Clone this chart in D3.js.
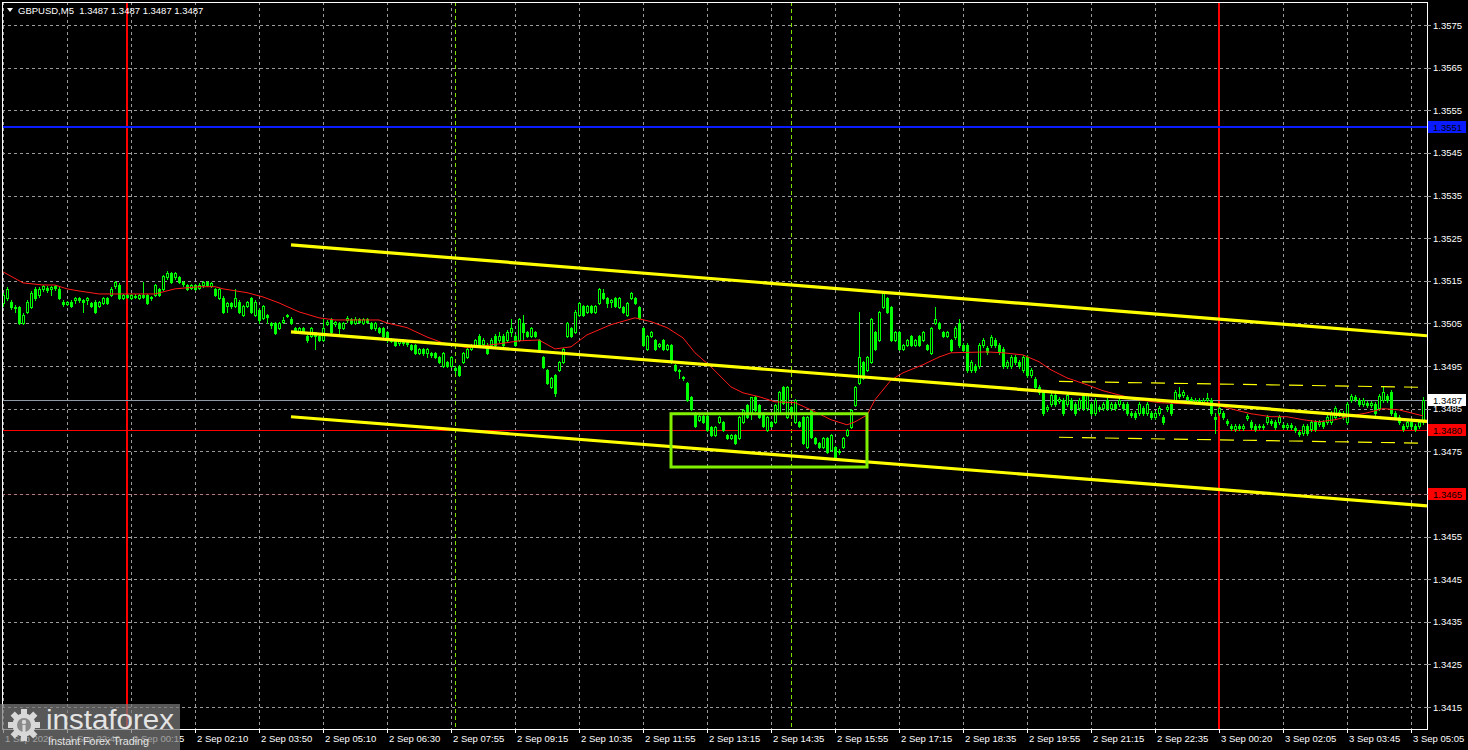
<!DOCTYPE html>
<html><head><meta charset="utf-8">
<script src="https://cdn.jsdelivr.net/npm/d3@7"></script>
<style>
body{margin:0;background:#000;overflow:hidden}
svg{display:block}
text{font-family:"Liberation Sans",Arial,sans-serif}
</style></head>
<body><svg id="c" width="1468" height="750"></svg>
<script>
// ---------- DATA (GBPUSD M5) ----------
const open = [
1.35098,1.35110,1.35100,1.35089,1.35089,1.35051,1.35077,1.35089,1.35131,1.35117,
1.35131,1.35133,1.35131,1.35138,1.35131,1.35100,1.35096,1.35100,1.35105,1.35110,
1.35105,1.35105,1.35098,1.35100,1.35091,1.35098,1.35110,1.35117,1.35138,1.35140,
1.35110,1.35117,1.35110,1.35115,1.35110,1.35117,1.35117,1.35110,1.35117,1.35131,
1.35131,1.35159,1.35169,1.35159,1.35159,1.35147,1.35140,1.35133,1.35140,1.35133,
1.35140,1.35147,1.35138,1.35131,1.35110,1.35110,1.35091,1.35098,1.35091,1.35100,
1.35070,1.35091,1.35110,1.35070,1.35082,1.35063,1.35070,1.35051,1.35051,1.35040,
1.35054,1.35068,1.35061,1.35040,1.35030,1.35040,1.35021,1.35021,1.35030,1.35021,
1.35011,1.35049,1.35061,1.35049,1.35051,1.35040,1.35058,1.35061,1.35051,1.35061,
1.35051,1.35061,1.35051,1.35040,1.35040,1.35040,1.35030,1.35014,1.35011,1.35004,
1.35009,1.35007,1.35000,1.35000,1.34981,1.34990,1.34981,1.34981,1.34981,1.34971,
1.34950,1.34960,1.34950,1.34946,1.34950,1.34960,1.34971,1.34990,1.35000,
1.35021,1.35002,1.35000,1.35000,1.35021,1.35011,1.35021,1.35011,1.35030,1.35021,
1.35011,1.35051,1.35030,1.35021,1.35030,1.35011,1.34971,1.34941,1.34901,1.34929,
1.34941,1.34960,1.35021,1.35040,1.35030,1.35070,1.35091,1.35077,1.35091,1.35077,
1.35098,1.35122,1.35110,1.35100,1.35110,1.35089,1.35089,1.35070,1.35110,1.35110,
1.35089,1.35040,1.34990,1.35021,1.35011,1.34997,1.35011,1.34990,1.35000,1.34953,
1.34941,1.34925,1.34910,1.34878,1.34840,1.34824,1.34833,1.34833,1.34807,1.34788,
1.34819,1.34819,1.34788,1.34781,1.34788,1.34781,1.34819,1.34859,1.34840,1.34878,
1.34859,1.34840,1.34800,1.34819,1.34819,1.34840,1.34901,1.34831,1.34854,1.34819,
1.34819,1.34831,1.34760,1.34847,1.34781,1.34770,1.34760,1.34781,1.34753,1.34760,
1.34749,1.34760,1.34788,1.34807,1.34859,1.34910,1.34960,1.34941,1.34960,1.35030,
1.35011,1.35089,1.35110,1.35089,1.35011,1.35030,1.34990,1.35000,1.35021,1.35000,
1.35021,1.35011,1.35000,1.34981,1.35051,1.35051,1.35030,1.35021,1.35011,
1.35018,1.35051,1.35000,1.35000,1.34941,1.34950,1.34950,1.35000,1.34993,1.35000,
1.35011,1.35000,1.34990,1.34950,1.34950,1.34971,1.34960,1.34941,1.34971,1.34929,
1.34920,1.34901,1.34889,1.34850,1.34861,1.34882,1.34868,1.34871,1.34861,1.34871,
1.34861,1.34852,1.34882,1.34852,1.34861,1.34840,1.34854,1.34852,1.34871,1.34852,
1.34861,1.34861,1.34861,1.34861,1.34840,1.34840,1.34840,1.34852,1.34840,1.34840,
1.34831,1.34840,1.34831,1.34850,1.34861,1.34871,1.34885,1.34882,1.34878,1.34873,
1.34866,1.34871,1.34866,1.34871,1.34871,1.34831,1.34840,1.34840,1.34821,1.34810,
1.34803,1.34810,1.34805,1.34828,1.34819,1.34810,1.34807,1.34810,1.34819,1.34821,
1.34819,1.34819,1.34812,1.34807,1.34812,1.34805,1.34796,1.34793,1.34810,1.34803,
1.34819,1.34814,1.34819,1.34819,1.34819,1.34831,1.34843,1.34840,1.34819,1.34871,
1.34878,1.34871,1.34861,1.34864,1.34859,1.34861,1.34852,1.34871,1.34880,1.34889,
1.34840,1.34831,1.34810,1.34810,1.34819,1.34810,1.34810,1.34819];
const high = [
1.35122,1.35136,1.35105,1.35093,1.35091,1.35075,1.35105,1.35126,1.35136,1.35136,
1.35140,1.35138,1.35138,1.35140,1.35136,1.35105,1.35103,1.35105,1.35112,1.35112,
1.35108,1.35112,1.35100,1.35105,1.35103,1.35112,1.35112,1.35136,1.35150,1.35145,
1.35119,1.35119,1.35119,1.35119,1.35119,1.35147,1.35119,1.35115,1.35143,1.35133,
1.35164,1.35173,1.35171,1.35171,1.35162,1.35150,1.35143,1.35143,1.35143,1.35145,
1.35150,1.35150,1.35147,1.35133,1.35133,1.35115,1.35100,1.35100,1.35131,1.35105,
1.35093,1.35103,1.35112,1.35105,1.35086,1.35093,1.35072,1.35054,1.35054,1.35054,
1.35065,1.35072,1.35065,1.35042,1.35042,1.35042,1.35023,1.35042,1.35030,1.35023,
1.35061,1.35058,1.35063,1.35056,1.35054,1.35054,1.35068,1.35063,1.35065,1.35063,
1.35063,1.35063,1.35054,1.35054,1.35042,1.35042,1.35033,1.35016,1.35014,1.35011,
1.35014,1.35011,1.35002,1.35002,1.34993,1.34993,1.34993,1.34983,1.34983,1.34974,
1.34983,1.34962,1.34974,1.34950,1.34953,1.34983,1.34993,1.35002,1.35014,
1.35026,1.35016,1.35004,1.35016,1.35026,1.35030,1.35026,1.35035,1.35061,1.35026,
1.35063,1.35070,1.35033,1.35042,1.35033,1.35014,1.34974,1.34943,1.34925,1.34932,
1.34962,1.34993,1.35054,1.35042,1.35082,1.35100,1.35093,1.35093,1.35093,1.35093,
1.35133,1.35131,1.35112,1.35108,1.35112,1.35112,1.35091,1.35100,1.35124,1.35112,
1.35091,1.35042,1.35023,1.35033,1.35014,1.35004,1.35014,1.35002,1.35002,1.34955,
1.34943,1.34927,1.34913,1.34880,1.34843,1.34835,1.34835,1.34835,1.34810,1.34810,
1.34833,1.34821,1.34791,1.34791,1.34791,1.34833,1.34850,1.34861,1.34878,1.34880,
1.34861,1.34843,1.34833,1.34821,1.34861,1.34892,1.34903,1.34903,1.34857,1.34873,
1.34821,1.34833,1.34833,1.34850,1.34784,1.34772,1.34784,1.34784,1.34791,1.34763,
1.34756,1.34784,1.34803,1.34850,1.34903,1.35077,1.34962,1.34974,1.35063,1.35033,
1.35079,1.35124,1.35112,1.35091,1.35033,1.35033,1.35002,1.35014,1.35023,1.35014,
1.35023,1.35033,1.35002,1.35042,1.35089,1.35054,1.35033,1.35033,1.35014,
1.35044,1.35061,1.35004,1.35004,1.34964,1.34955,1.35004,1.35016,1.34997,1.35023,
1.35016,1.35004,1.34995,1.34964,1.34976,1.34976,1.34964,1.34976,1.34976,1.34946,
1.34925,1.34906,1.34894,1.34859,1.34887,1.34887,1.34878,1.34875,1.34887,1.34875,
1.34866,1.34875,1.34887,1.34887,1.34866,1.34875,1.34859,1.34866,1.34875,1.34866,
1.34866,1.34875,1.34866,1.34866,1.34845,1.34845,1.34866,1.34857,1.34866,1.34845,
1.34845,1.34857,1.34835,1.34859,1.34866,1.34894,1.34901,1.34894,1.34882,1.34878,
1.34875,1.34875,1.34875,1.34887,1.34875,1.34840,1.34857,1.34845,1.34826,1.34814,
1.34814,1.34814,1.34814,1.34838,1.34824,1.34814,1.34814,1.34814,1.34835,1.34826,
1.34824,1.34835,1.34817,1.34817,1.34817,1.34810,1.34800,1.34814,1.34814,1.34824,
1.34824,1.34824,1.34824,1.34835,1.34845,1.34857,1.34847,1.34845,1.34866,1.34885,
1.34882,1.34875,1.34875,1.34868,1.34868,1.34866,1.34885,1.34901,1.34885,1.34894,
1.34845,1.34835,1.34814,1.34824,1.34824,1.34814,1.34824,1.34878];
const low = [
1.35091,1.35105,1.35084,1.35077,1.35049,1.35049,1.35075,1.35086,1.35105,1.35112,
1.35126,1.35124,1.35117,1.35129,1.35108,1.35091,1.35093,1.35089,1.35098,1.35100,
1.35077,1.35096,1.35089,1.35075,1.35089,1.35096,1.35096,1.35115,1.35133,1.35108,
1.35108,1.35110,1.35108,1.35110,1.35108,1.35110,1.35096,1.35105,1.35115,1.35115,
1.35129,1.35154,1.35145,1.35154,1.35145,1.35138,1.35129,1.35131,1.35129,1.35131,
1.35136,1.35138,1.35136,1.35115,1.35108,1.35075,1.35077,1.35086,1.35089,1.35075,
1.35068,1.35089,1.35075,1.35068,1.35051,1.35061,1.35051,1.35040,1.35026,1.35037,
1.35051,1.35065,1.35049,1.35028,1.35028,1.35028,1.35007,1.35018,1.34990,1.35009,
1.35009,1.35047,1.35028,1.35044,1.35028,1.35037,1.35054,1.35049,1.35049,1.35051,
1.35049,1.35051,1.35037,1.35035,1.35028,1.35018,1.35007,1.35007,1.34997,1.35000,
1.35000,1.34997,1.34988,1.34978,1.34978,1.34976,1.34971,1.34971,1.34969,1.34957,
1.34948,1.34948,1.34948,1.34934,1.34927,1.34957,1.34969,1.34988,1.34997,
1.34997,1.34997,1.34978,1.34997,1.34997,1.35007,1.34997,1.35009,1.35021,1.34997,
1.35009,1.35011,1.35018,1.35018,1.35018,1.34986,1.34946,1.34908,1.34899,1.34880,
1.34939,1.34957,1.35018,1.35018,1.35028,1.35068,1.35068,1.35075,1.35075,1.35075,
1.35096,1.35108,1.35089,1.35089,1.35089,1.35086,1.35075,1.35068,1.35108,1.35096,
1.35061,1.34997,1.34988,1.35018,1.34988,1.34995,1.34988,1.34988,1.34957,1.34939,
1.34922,1.34917,1.34868,1.34847,1.34807,1.34821,1.34817,1.34798,1.34786,1.34786,
1.34817,1.34798,1.34779,1.34779,1.34767,1.34779,1.34817,1.34828,1.34826,1.34845,
1.34828,1.34807,1.34798,1.34807,1.34817,1.34838,1.34861,1.34828,1.34838,1.34817,
1.34807,1.34767,1.34758,1.34781,1.34767,1.34758,1.34758,1.34746,1.34751,1.34735,
1.34744,1.34758,1.34786,1.34805,1.34857,1.34908,1.34920,1.34939,1.34957,1.34988,
1.35009,1.35086,1.35075,1.35009,1.35009,1.34988,1.34988,1.34997,1.34997,1.34997,
1.34997,1.35009,1.34988,1.34978,1.35049,1.35037,1.35018,1.35018,1.34986,
1.35014,1.34995,1.34983,1.34936,1.34936,1.34936,1.34946,1.34995,1.34978,1.34995,
1.34995,1.34978,1.34946,1.34946,1.34946,1.34955,1.34946,1.34936,1.34925,1.34925,
1.34896,1.34885,1.34835,1.34845,1.34857,1.34857,1.34864,1.34835,1.34857,1.34847,
1.34835,1.34847,1.34847,1.34847,1.34835,1.34835,1.34845,1.34847,1.34847,1.34847,
1.34847,1.34857,1.34847,1.34835,1.34831,1.34826,1.34835,1.34835,1.34835,1.34826,
1.34826,1.34835,1.34814,1.34845,1.34835,1.34866,1.34875,1.34878,1.34868,1.34864,
1.34861,1.34861,1.34861,1.34866,1.34835,1.34793,1.34835,1.34826,1.34812,1.34800,
1.34798,1.34800,1.34800,1.34824,1.34803,1.34798,1.34803,1.34803,1.34814,1.34812,
1.34803,1.34814,1.34803,1.34803,1.34803,1.34796,1.34786,1.34788,1.34788,1.34798,
1.34798,1.34810,1.34805,1.34814,1.34814,1.34826,1.34833,1.34826,1.34814,1.34866,
1.34868,1.34857,1.34857,1.34854,1.34854,1.34835,1.34847,1.34866,1.34866,1.34835,
1.34826,1.34814,1.34798,1.34805,1.34805,1.34798,1.34805,1.34814];
const close = [
1.35117,1.35131,1.35089,1.35086,1.35051,1.35070,1.35100,1.35122,1.35110,1.35131,
1.35138,1.35129,1.35136,1.35133,1.35110,1.35096,1.35100,1.35091,1.35110,1.35105,
1.35100,1.35110,1.35091,1.35077,1.35100,1.35110,1.35098,1.35131,1.35147,1.35110,
1.35117,1.35112,1.35117,1.35112,1.35117,1.35112,1.35098,1.35112,1.35140,1.35117,
1.35162,1.35169,1.35147,1.35169,1.35147,1.35143,1.35131,1.35140,1.35131,1.35140,
1.35147,1.35140,1.35145,1.35117,1.35131,1.35077,1.35098,1.35091,1.35110,1.35077,
1.35091,1.35100,1.35077,1.35100,1.35058,1.35091,1.35065,1.35047,1.35028,1.35051,
1.35058,1.35070,1.35051,1.35030,1.35040,1.35030,1.35011,1.35040,1.35021,1.35011,
1.35040,1.35054,1.35030,1.35054,1.35040,1.35051,1.35063,1.35051,1.35061,1.35054,
1.35061,1.35054,1.35040,1.35051,1.35030,1.35021,1.35011,1.35009,1.35000,1.35009,
1.35004,1.35002,1.34990,1.34981,1.34990,1.34981,1.34990,1.34976,1.34971,1.34960,
1.34981,1.34950,1.34971,1.34941,1.34929,1.34981,1.34990,1.35000,1.35011,
1.35000,1.35011,1.34981,1.35011,1.35000,1.35021,1.35000,1.35030,1.35040,1.35000,
1.35061,1.35030,1.35021,1.35040,1.35021,1.34988,1.34948,1.34910,1.34922,1.34887,
1.34960,1.34990,1.35051,1.35021,1.35077,1.35098,1.35070,1.35091,1.35077,1.35091,
1.35131,1.35110,1.35098,1.35105,1.35091,1.35110,1.35077,1.35098,1.35122,1.35098,
1.35063,1.35000,1.35021,1.35030,1.34990,1.35002,1.34990,1.35000,1.34960,1.34941,
1.34939,1.34922,1.34871,1.34850,1.34810,1.34833,1.34819,1.34800,1.34788,1.34807,
1.34831,1.34800,1.34781,1.34788,1.34770,1.34831,1.34847,1.34831,1.34878,1.34847,
1.34831,1.34810,1.34831,1.34810,1.34859,1.34889,1.34864,1.34901,1.34840,1.34871,
1.34810,1.34770,1.34831,1.34784,1.34770,1.34760,1.34781,1.34749,1.34788,1.34737,
1.34751,1.34781,1.34800,1.34847,1.34901,1.34971,1.34922,1.34971,1.35061,1.34990,
1.35077,1.35122,1.35077,1.35011,1.35030,1.34990,1.35000,1.35011,1.35000,1.35011,
1.35000,1.35030,1.34990,1.35040,1.35061,1.35040,1.35021,1.35030,1.34988,
1.35040,1.35000,1.34988,1.34941,1.34960,1.34941,1.35000,1.35011,1.34983,1.35018,
1.35000,1.34983,1.34950,1.34960,1.34971,1.34960,1.34950,1.34971,1.34929,1.34941,
1.34901,1.34889,1.34840,1.34854,1.34882,1.34861,1.34873,1.34840,1.34882,1.34852,
1.34840,1.34871,1.34852,1.34882,1.34840,1.34871,1.34850,1.34861,1.34852,1.34861,
1.34852,1.34871,1.34852,1.34840,1.34835,1.34831,1.34861,1.34840,1.34861,1.34831,
1.34840,1.34852,1.34819,1.34854,1.34840,1.34889,1.34880,1.34889,1.34873,1.34868,
1.34871,1.34866,1.34871,1.34875,1.34840,1.34826,1.34852,1.34831,1.34817,1.34805,
1.34810,1.34805,1.34810,1.34833,1.34807,1.34803,1.34810,1.34807,1.34831,1.34817,
1.34807,1.34831,1.34807,1.34812,1.34807,1.34800,1.34791,1.34810,1.34793,1.34819,
1.34803,1.34819,1.34810,1.34831,1.34840,1.34852,1.34838,1.34831,1.34861,1.34880,
1.34873,1.34861,1.34871,1.34859,1.34864,1.34840,1.34880,1.34889,1.34871,1.34840,
1.34831,1.34819,1.34803,1.34819,1.34810,1.34803,1.34819,1.34870];

// moving average (at these bars)
const maBar = [0,5,10,13,16,19,24,38,43,49,53,55,61,65,69,74,79,83,94,96,101,106,110,116,118,124,129,134,138,142,146,152,158,162,166,170,173,177,182,185,189,193,198,202,207,211,213,216,218,222,225,230,234,237,246,250,255,259,262,266,271,275,279,284,289,296,301,304,308,312,317,321,325,329,333,337,341,345,349,352,355];
const maVal = [1.35171,1.35145,1.35140,1.35140,1.35131,1.35126,1.35119,1.35119,1.35131,1.35136,1.35136,1.35131,1.35122,1.35112,1.35098,1.35077,1.35063,1.35058,1.35058,1.35051,1.35040,1.35018,1.35004,1.34993,1.34995,1.35002,1.35009,1.35011,1.34990,1.34995,1.35023,1.35047,1.35063,1.35054,1.35040,1.35016,1.34981,1.34948,1.34901,1.34887,1.34878,1.34866,1.34864,1.34847,1.34824,1.34812,1.34819,1.34835,1.34871,1.34917,1.34934,1.34953,1.34971,1.34981,1.34983,1.34981,1.34976,1.34960,1.34941,1.34922,1.34906,1.34892,1.34882,1.34871,1.34864,1.34861,1.34864,1.34857,1.34847,1.34838,1.34831,1.34831,1.34824,1.34819,1.34824,1.34833,1.34840,1.34850,1.34847,1.34840,1.34833];

const priceTicks = [1.3575,1.3565,1.3555,1.3545,1.3535,1.3525,1.3515,1.3505,1.3495,1.3485,1.3475,1.3465,1.3455,1.3445,1.3435,1.3425,1.3415];
const timeBars = [0,16,32,48,64,80,96,112,128,144,160,176,192,208,224,240,256,272,288,304,320,336,352];
const timeLabels = ["1 Sep 2026","1 Sep 22:40","2 Sep 00:15","2 Sep 02:10","2 Sep 03:50","2 Sep 05:10","2 Sep 06:30","2 Sep 07:55","2 Sep 09:15","2 Sep 10:35","2 Sep 11:55","2 Sep 13:15","2 Sep 14:35","2 Sep 15:55","2 Sep 17:15","2 Sep 18:35","2 Sep 19:55","2 Sep 21:15","2 Sep 22:35","3 Sep 00:20","3 Sep 02:05","3 Sep 03:45","3 Sep 05:05"];

const resistance = 1.3551;
const supportLevels = [1.3480, 1.3465];
const lastPrice = 1.3487;
const daySepBars = [31, 304];
const markerBars = [113, 197];
const channelBars = [72, 356];
const channelUpper = [1.35234, 1.35021];
const channelMid = [1.35030, 1.34820];
const channelLow = [1.34831, 1.34622];
const devBars = [264, 356];
const devUpper = [1.34915, 1.34901];
const devLower = [1.34784, 1.34770];
const boxBars = [167, 216];
const boxPrices = [1.34838, 1.34713];
const title = "GBPUSD,M5  1.3487 1.3487 1.3487 1.3487";

// ---------- DRAW ----------
const svg = d3.select('#c');
const W = 1468, H = 750, L = 2, R = 1427, T = 2, B = 729;
svg.append('rect').attr('width', W).attr('height', H).attr('fill', '#000');
svg.append('defs').append('clipPath').attr('id', 'clip')
  .append('rect').attr('x', L).attr('y', T).attr('width', R - L).attr('height', B - T);

const x = d3.scaleLinear().domain([0, 355]).range([3, 1423]);
const y = d3.scaleLinear().domain([1.3415, 1.3575]).range([707, 25]);
const px = v => Math.round(v) + 0.5;

const plot = svg.append('g').attr('clip-path', 'url(#clip)');

// grid
plot.append('g').selectAll('line').data(priceTicks).join('line')
  .attr('x1', L).attr('x2', R).attr('y1', d => px(y(d))).attr('y2', d => px(y(d)))
  .attr('stroke', '#9a9a9a').attr('stroke-dasharray', '3,3');
plot.append('g').selectAll('line').data(timeBars).join('line')
  .attr('y1', T).attr('y2', B).attr('x1', d => px(x(d))).attr('x2', d => px(x(d)))
  .attr('stroke', '#9a9a9a').attr('stroke-dasharray', '3,3');

// vertical markers
plot.append('g').selectAll('line').data(markerBars).join('line')
  .attr('y1', T).attr('y2', B).attr('x1', d => px(x(d))).attr('x2', d => px(x(d)))
  .attr('stroke', '#7fe000').attr('stroke-dasharray', '4,3');
plot.append('g').selectAll('line').data(daySepBars).join('line')
  .attr('y1', T).attr('y2', B).attr('x1', d => Math.round(x(d))).attr('x2', d => Math.round(x(d)))
  .attr('stroke', '#ff0000').attr('stroke-width', 2);

// horizontal levels
plot.append('line').attr('x1', L).attr('x2', R)
  .attr('y1', Math.round(y(resistance))).attr('y2', Math.round(y(resistance)))
  .attr('stroke', '#0a1cff').attr('stroke-width', 2);
plot.append('line').attr('x1', L).attr('x2', R)
  .attr('y1', px(y(supportLevels[0]))).attr('y2', px(y(supportLevels[0])))
  .attr('stroke', '#ff0000');
plot.append('line').attr('x1', L).attr('x2', R)
  .attr('y1', px(y(supportLevels[1]))).attr('y2', px(y(supportLevels[1])))
  .attr('stroke', '#ff0000').attr('stroke-opacity', 0.15);
plot.append('line').attr('x1', L).attr('x2', R)
  .attr('y1', px(y(lastPrice))).attr('y2', px(y(lastPrice)))
  .attr('stroke', '#8d99a6');

// candles
const idx = d3.range(close.length);
const cg = plot.append('g').attr('shape-rendering', 'crispEdges');
cg.selectAll('line.w').data(idx).join('line').attr('class', 'w')
  .attr('x1', i => px(x(i))).attr('x2', i => px(x(i)))
  .attr('y1', i => Math.round(y(high[i]))).attr('y2', i => Math.round(y(low[i])) + 1)
  .attr('stroke', '#00ff00');
idx.forEach(i => {
  const cx = Math.round(x(i));
  const top = Math.round(y(Math.max(open[i], close[i])));
  const bot = Math.round(y(Math.min(open[i], close[i])));
  if (bot - top < 1) {
    cg.append('line').attr('x1', cx - 1).attr('x2', cx + 2)
      .attr('y1', top + 0.5).attr('y2', top + 0.5).attr('stroke', '#00ff00');
  } else if (close[i] > open[i]) {
    cg.append('rect').attr('x', cx - 0.5).attr('y', top + 0.5)
      .attr('width', 2).attr('height', bot - top)
      .attr('fill', '#000').attr('stroke', '#00ff00');
  } else {
    cg.append('rect').attr('x', cx - 1).attr('y', top)
      .attr('width', 3).attr('height', bot - top + 1).attr('fill', '#00ff00');
  }
});

// moving average
plot.append('path')
  .attr('d', d3.line().x((d, k) => x(maBar[k])).y(d => y(d))(maVal))
  .attr('fill', 'none').attr('stroke', '#ff1a1a').attr('stroke-width', 1);

// regression channel
[channelUpper, channelMid, channelLow].forEach(c => {
  plot.append('line')
    .attr('x1', x(channelBars[0])).attr('x2', x(channelBars[1]))
    .attr('y1', y(c[0])).attr('y2', y(c[1]))
    .attr('stroke', '#ffff00').attr('stroke-width', 3.2);
});
[devUpper, devLower].forEach(c => {
  plot.append('line')
    .attr('x1', x(devBars[0])).attr('x2', x(devBars[1]))
    .attr('y1', y(c[0]) + 0.5).attr('y2', y(c[1]) + 0.5)
    .attr('stroke', '#ffff00').attr('stroke-width', 1.2).attr('stroke-dasharray', '14,9');
});

// rectangle
plot.append('rect')
  .attr('x', x(boxBars[0])).attr('y', y(boxPrices[0]))
  .attr('width', x(boxBars[1]) - x(boxBars[0]))
  .attr('height', y(boxPrices[1]) - y(boxPrices[0]))
  .attr('fill', 'none').attr('stroke', '#80f000').attr('stroke-width', 3);

// frame
svg.append('rect').attr('x', L + 0.5).attr('y', T + 0.5)
  .attr('width', R - L).attr('height', B - T)
  .attr('fill', 'none').attr('stroke', '#ffffff');

// price axis
const pa = svg.append('g');
pa.selectAll('line').data(priceTicks).join('line')
  .attr('x1', R).attr('x2', R + 4).attr('y1', d => px(y(d))).attr('y2', d => px(y(d)))
  .attr('stroke', '#9a9a9a');
pa.selectAll('text').data(priceTicks).join('text')
  .attr('x', 1433).attr('y', d => y(d) + 3.5)
  .attr('fill', '#ffffff').attr('font-size', '9.5px')
  .text(d => d.toFixed(4));

// time axis
const ta = svg.append('g');
ta.selectAll('line').data(timeBars).join('line')
  .attr('x1', d => px(x(d))).attr('x2', d => px(x(d))).attr('y1', B).attr('y2', B + 4)
  .attr('stroke', '#ffffff');
ta.selectAll('text').data(timeBars).join('text')
  .attr('x', d => x(d) + 2).attr('y', 742)
  .attr('fill', '#ffffff').attr('font-size', '9.5px')
  .text((d, k) => timeLabels[k]);

// price tags
function tag(p, bg) {
  const yy = Math.round(y(p));
  svg.append('rect').attr('x', 1428).attr('y', yy - 6).attr('width', 38).attr('height', 12).attr('fill', bg);
  svg.append('text').attr('x', 1433).attr('y', yy + 3.5)
    .attr('fill', '#000').attr('font-size', '9.5px').text(p.toFixed(4));
}
tag(resistance, '#0a1cff');
tag(lastPrice, '#ffffff');
supportLevels.forEach(p => tag(p, '#ff0000'));

// title
svg.append('path').attr('d', 'M7,8 L13,8 L10,12 Z').attr('fill', '#ffffff');
svg.append('text').attr('x', 18).attr('y', 14).attr('fill', '#ffffff')
  .attr('font-size', '9.5px').attr('xml:space', 'preserve').text(title);

// watermark
const wm = svg.append('g');
wm.append('rect').attr('x', 0).attr('y', 704).attr('width', 180).attr('height', 46)
  .attr('fill', '#7a7a7a').attr('fill-opacity', 0.72);
const gx = 24, gy = 725;
d3.range(8).forEach(k => {
  wm.append('rect').attr('x', gx - 3).attr('y', gy - 16).attr('width', 6).attr('height', 7)
    .attr('fill', '#d8d8d8').attr('transform', `rotate(${k * 45},${gx},${gy})`);
});
wm.append('circle').attr('cx', gx).attr('cy', gy).attr('r', 11.5).attr('fill', '#d8d8d8');
wm.append('circle').attr('cx', gx).attr('cy', gy).attr('r', 7).attr('fill', '#8a8a8a');
wm.append('circle').attr('cx', gx).attr('cy', gy - 3).attr('r', 2.2).attr('fill', '#d8d8d8');
wm.append('rect').attr('x', gx - 1.5).attr('y', gy).attr('width', 3).attr('height', 8).attr('fill', '#d8d8d8');
wm.append('text').attr('x', 46).attr('y', 729).attr('fill', '#e4e4e4')
  .attr('font-family', '"Open Sans",sans-serif').attr('font-weight', 300)
  .attr('font-size', '27px').attr('textLength', 128).attr('lengthAdjust', 'spacingAndGlyphs')
  .text('instaforex');
wm.append('text').attr('x', 48).attr('y', 745).attr('fill', '#e4e4e4')
  .attr('font-size', '10.5px').attr('textLength', 101).attr('lengthAdjust', 'spacingAndGlyphs')
  .text('Instant Forex Trading');
</script>
</body></html>
